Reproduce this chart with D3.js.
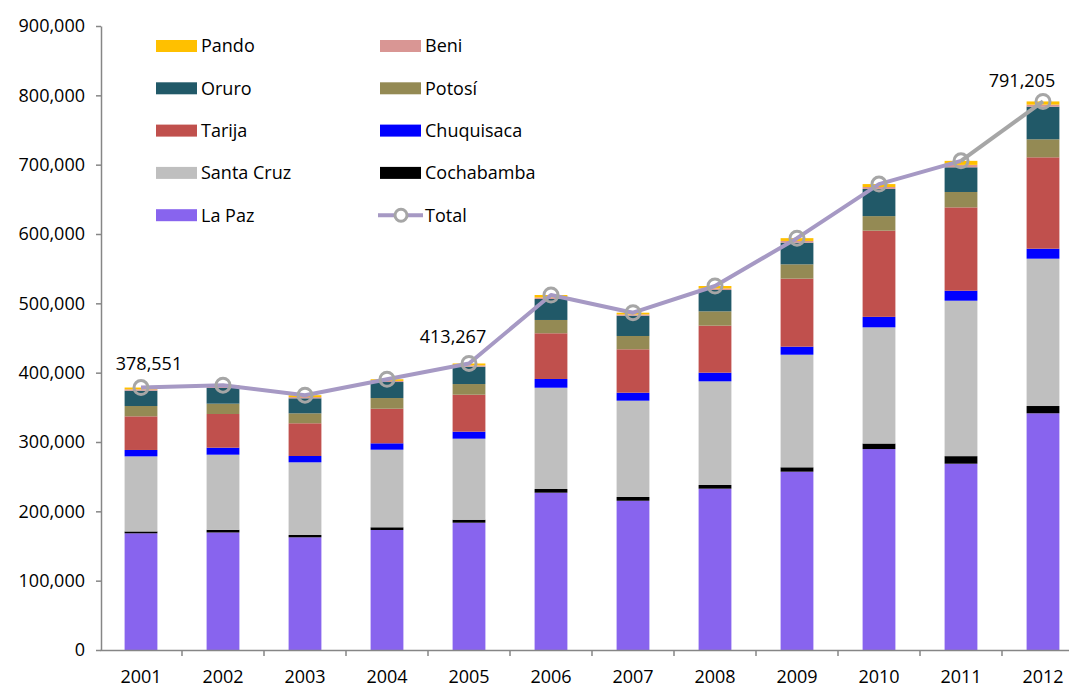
<!DOCTYPE html>
<html>
<head>
<meta charset="utf-8">
<script src="https://cdn.jsdelivr.net/npm/d3@7/dist/d3.min.js"></script>
<style>
  body { margin: 0; background: #fff; }
  svg text { font-family: "Open Sans", sans-serif; fill: #000; }
</style>
</head>
<body>
<div class="graph-main"></div>
<script>
// datos por departamento
const years = ['2001', '2002', '2003', '2004', '2005', '2006', '2007', '2008', '2009', '2010', '2011', '2012'];
const laPaz      = [168300, 169500, 162500, 173100, 183600, 226900, 215300, 232700, 257200, 289800, 268700, 341400];
const cochabamba = [2700, 3800, 3400, 3900, 4300, 5300, 5400, 5300, 6300, 8000, 10900, 10500];
const santaCruz  = [108300, 108400, 104800, 111900, 116900, 146100, 138900, 149500, 162400, 167600, 224200, 212500];
const chuquisaca = [9200, 10100, 9100, 9200, 10100, 12600, 11500, 12500, 11600, 15100, 14400, 14400];
const tarija     = [48500, 48600, 47200, 49900, 53300, 65900, 62600, 67800, 98100, 124300, 120200, 131800];
const potosi     = [14900, 14900, 14400, 15400, 15400, 19200, 19200, 20700, 20700, 21000, 22200, 26000];
const oruro      = [22100, 22700, 21600, 23100, 25000, 30300, 29300, 30700, 31200, 39200, 35600, 47000];
const beni       = [2000, 1800, 1800, 1600, 1900, 2200, 1800, 2300, 2500, 2800, 3500, 3000];
const pando      = [2551, 2200, 2700, 2400, 2767, 3500, 2500, 3500, 4000, 4200, 5800, 4605];
const totals     = [378551, 382000, 367500, 390500, 413267, 512000, 486500, 525000, 594000, 672000, 705500, 791205];
const labeledYears = ['2001', '2005', '2012'];
const yTicks = [0, 100000, 200000, 300000, 400000, 500000, 600000, 700000, 800000, 900000];

// series de abajo hacia arriba
const series = [
  { key: 'La Paz', values: laPaz, color: '#8864ee' },
  { key: 'Cochabamba', values: cochabamba, color: '#000000' },
  { key: 'Santa Cruz', values: santaCruz, color: '#bfbfbf' },
  { key: 'Chuquisaca', values: chuquisaca, color: '#0000ff' },
  { key: 'Tarija', values: tarija, color: '#c0504d' },
  { key: 'Potosí', values: potosi, color: '#948a54' },
  { key: 'Oruro', values: oruro, color: '#215968' },
  { key: 'Beni', values: beni, color: '#d99694' },
  { key: 'Pando', values: pando, color: '#ffc000' }
];

const rows = years.map((y, i) => {
  const r = { year: y };
  series.forEach(s => { r[s.key] = s.values[i]; });
  return r;
});

// Lienzo
const width = 1069;
const height = 687;
const fontSize = 18;

const svg = d3.select('.graph-main')
  .append('svg')
  .attr('width', width)
  .attr('height', height);

// escalas
const xScale = d3.scaleBand()
  .domain(years)
  .range([100, 1084])
  .paddingInner(0.6)
  .paddingOuter(0.3);

const yScale = d3.scaleLinear()
  .domain([0, 900000])
  .range([650, 26]);

// barras apiladas
const stack = d3.stack().keys(series.map(s => s.key));
const stacked = stack(rows);

svg.append('g')
  .selectAll('g')
  .data(stacked)
  .enter()
  .append('g')
  .attr('fill', (d, i) => series[i].color)
  .selectAll('rect')
  .data(d => d)
  .enter()
  .append('rect')
  .attr('x', d => xScale(d.data.year))
  .attr('width', xScale.bandwidth())
  .attr('y', d => yScale(d[1]))
  .attr('height', d => yScale(d[0]) - yScale(d[1]));

// eje y
const yAxis = d3.axisLeft(yScale)
  .tickValues(yTicks)
  .tickFormat(d3.format(','))
  .tickSize(5)
  .tickSizeOuter(0)
  .tickPadding(11);

const gy = svg.append('g')
  .attr('transform', 'translate(101,0)')
  .call(yAxis);
gy.select('.domain').attr('stroke', '#868686').attr('stroke-width', 1.5);
gy.selectAll('.tick line').attr('stroke', '#868686').attr('stroke-width', 1.5);
gy.selectAll('.tick text').attr('font-size', fontSize).style('font-family', '"Open Sans", sans-serif');

// eje x
const xAxis = d3.axisBottom(xScale).tickSize(0).tickPadding(20).tickSizeOuter(0);
const gx = svg.append('g')
  .attr('transform', 'translate(0,650)')
  .call(xAxis);
gx.select('.domain').attr('stroke', '#868686').attr('stroke-width', 1.5);
gx.selectAll('.tick text').attr('font-size', fontSize).style('font-family', '"Open Sans", sans-serif');

// marcas entre categorias
const step = xScale.step();
gx.selectAll('.sep')
  .data(years)
  .enter()
  .append('line')
  .attr('class', 'sep')
  .attr('x1', d => xScale(d) + xScale.bandwidth() / 2 + step / 2)
  .attr('x2', d => xScale(d) + xScale.bandwidth() / 2 + step / 2)
  .attr('y1', 0)
  .attr('y2', 6)
  .attr('stroke', '#868686')
  .attr('stroke-width', 1.5);

// linea total
const cx = d => xScale(d) + xScale.bandwidth() / 2;
const pts = years.map((y, i) => [cx(y), yScale(totals[i])]);

const line = d3.line();
svg.append('path')
  .attr('d', line(pts.slice(0, pts.length - 1)))
  .attr('fill', 'none')
  .attr('stroke', '#a699c4')
  .attr('stroke-width', 4)
  .attr('stroke-linejoin', 'round');

svg.append('path')
  .attr('d', line(pts.slice(pts.length - 2)))
  .attr('fill', 'none')
  .attr('stroke', '#a6a6a6')
  .attr('stroke-width', 4);

svg.selectAll('.marker')
  .data(pts)
  .enter()
  .append('circle')
  .attr('class', 'marker')
  .attr('cx', d => d[0])
  .attr('cy', d => d[1])
  .attr('r', 7)
  .attr('fill', 'none')
  .attr('stroke', '#a6a6a6')
  .attr('stroke-width', 3);

// etiquetas de datos
const labelShift = { '2001': [8, -18], '2005': [-16, -20], '2012': [-21, -14] };
svg.selectAll('.dlabel')
  .data(labeledYears)
  .enter()
  .append('text')
  .attr('class', 'dlabel')
  .attr('x', d => cx(d) + labelShift[d][0])
  .attr('y', d => yScale(totals[years.indexOf(d)]) + labelShift[d][1])
  .attr('text-anchor', 'middle')
  .attr('font-size', fontSize)
  .text(d => d3.format(',')(totals[years.indexOf(d)]));

// leyenda
const legendOrder = ['Pando', 'Beni', 'Oruro', 'Potosí', 'Tarija', 'Chuquisaca', 'Santa Cruz', 'Cochabamba', 'La Paz', 'Total'];
const legend = svg.append('g');
legendOrder.forEach((name, i) => {
  const col = i % 2;
  const row = Math.floor(i / 2);
  const lx = 156 + col * 224;
  const ly = 46 + row * 42.3;
  const g = legend.append('g').attr('transform', `translate(${lx},${ly})`);
  if (name === 'Total') {
    g.append('line').attr('x1', -2).attr('x2', 43).attr('y1', 0).attr('y2', 0)
      .attr('stroke', '#a699c4').attr('stroke-width', 4);
    g.append('circle').attr('cx', 21).attr('cy', 0).attr('r', 6)
      .attr('fill', '#fff').attr('stroke', '#a6a6a6').attr('stroke-width', 3);
  } else {
    const s = series.find(s => s.key === name);
    g.append('rect').attr('x', 0).attr('y', -6).attr('width', 41).attr('height', 12)
      .attr('fill', s.color);
  }
  g.append('text')
    .attr('x', 45)
    .attr('y', 0)
    .attr('dy', '0.35em')
    .attr('font-size', fontSize)
    .text(name);
});
</script>
</body>
</html>
